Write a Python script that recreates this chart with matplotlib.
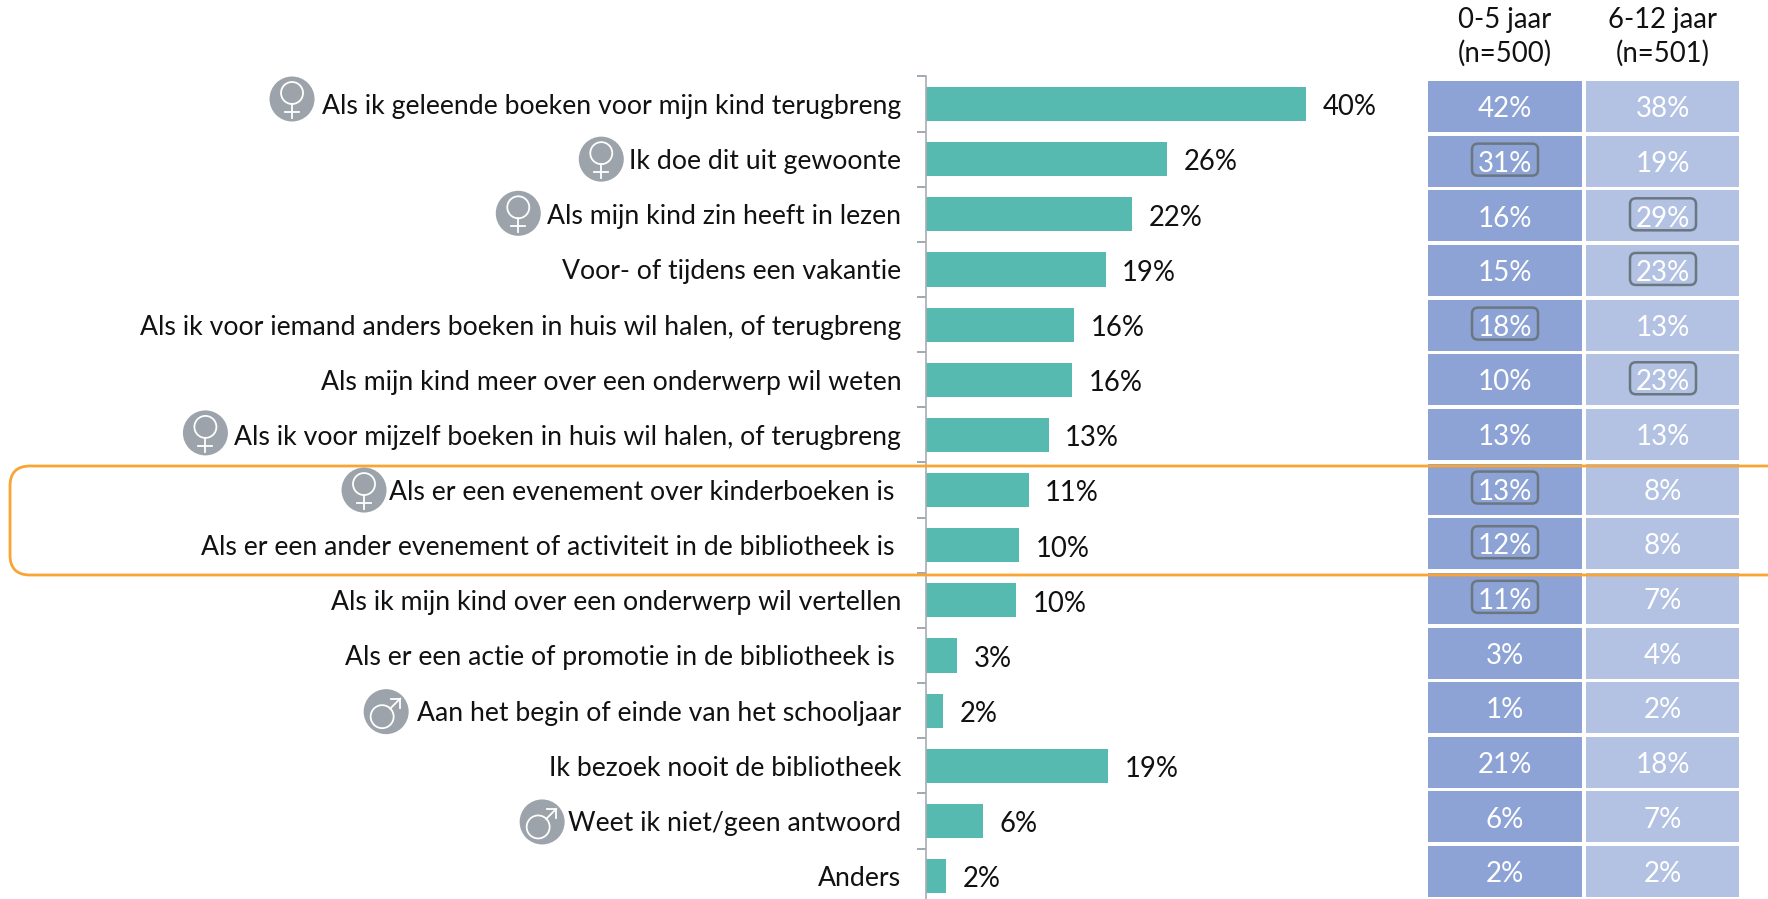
import matplotlib
matplotlib.use('Agg')
import matplotlib.pyplot as plt
from matplotlib.patches import Circle, FancyBboxPatch

labels = ['Als ik geleende boeken voor mijn kind terugbreng', 'Ik doe dit uit gewoonte',
          'Als mijn kind zin heeft in lezen', 'Voor- of tijdens een vakantie',
          'Als ik voor iemand anders boeken in huis wil halen, of terugbreng',
          'Als mijn kind meer over een onderwerp wil weten',
          'Als ik voor mijzelf boeken in huis wil halen, of terugbreng',
          'Als er een evenement over kinderboeken is\u00a0', 'Als er een ander evenement of activiteit in de bibliotheek is\u00a0',
          'Als ik mijn kind over een onderwerp wil vertellen', 'Als er een actie of promotie in de bibliotheek is\u00a0',
          'Aan het begin of einde van het schooljaar', 'Ik bezoek nooit de bibliotheek',
          'Weet ik niet/geen antwoord', 'Anders']
total = [40, 25.4, 21.7, 18.9, 15.6, 15.4, 12.9, 10.8, 9.8, 9.5, 3.3, 1.8, 19.2, 6, 2.1]
total_text = [40, 26, 22, 19, 16, 16, 13, 11, 10, 10, 3, 2, 19, 6, 2]
young = [42, 31, 16, 15, 18, 10, 13, 13, 12, 11, 3, 1, 21, 6, 2]
old = [38, 19, 29, 23, 13, 23, 13, 8, 8, 7, 4, 2, 18, 7, 2]
young_marked = [1, 4, 7, 8, 9]
old_marked = [2, 3, 5]
gender = ['f', 'f', 'f', '', '', '', 'f', 'f', '', '', '', 'm', '', 'm', '']
columns = ['0-5 jaar\n(n=500)', '6-12 jaar\n(n=501)']

W, H = 1768, 899
BAR = '#57bab1'
COL1 = '#8da3d5'
COL2 = '#b3c2e3'
ICON = '#9ca3aa'
ORANGE = '#f9a533'
MARK = '#6b7780'
INK = '#111111'
plt.rcParams['font.family'] = ['Lato', 'DejaVu Sans']

# icons do not sit at one fixed spot next to their label: row -> (gap to text, y shift) in px
icon_nudge = {0: (30, -5), 1: (28, 0), 2: (29, -1), 6: (29, -2), 7: (25, 0), 11: (31, 1), 13: (26, 1)}

rows = list(range(len(labels)))
fig = plt.figure(figsize=(W / 100, H / 100), dpi=100)


def add_axes(x0, y0, x1, y1):
    return fig.add_axes([x0 / W, 1 - y1 / H, (x1 - x0) / W, (y1 - y0) / H])


# bars
pitch = 55.15
ax = add_axes(926, 76, 1400, 899)
ax.barh(rows, total, height=0.62, color=BAR)
ax.set_xlim(0, 474 / 9.5)
ax.set_ylim((899 - 104) / pitch, (76 - 104) / pitch)
ax.set_yticks(rows, labels, fontsize=19.2, color=INK)
ax.tick_params(axis='y', which='major', length=0, pad=17.8)
ax.set_yticks([r - 0.5 for r in rows], minor=True)
ax.tick_params(axis='y', which='minor', length=6.5, width=1.1, color='#87919a')
ax.xaxis.set_visible(False)
for side in ['top', 'right', 'bottom']:
    ax.spines[side].set_visible(False)
ax.spines['left'].set_color('#a6adb3')
ax.spines['left'].set_linewidth(1.2)
for r, v, t in zip(rows, total, total_text):
    ax.annotate(f'{t}%', (v, r), xytext=(12, -2.4), textcoords='offset points',
                va='center', fontsize=19.8, color=INK)

# table
tax = add_axes(1428, 76, 1739, 899)
tpitch = 54.65
tax.barh(rows, [154 / 158] * len(rows), left=0, height=51 / tpitch, color=COL1)
tax.barh(rows, [154 / 158] * len(rows), left=1, height=51 / tpitch, color=COL2)
tax.set_xlim(0, 311 / 158)
tax.set_ylim((899 - 106.5) / tpitch, (76 - 106.5) / tpitch)
tax.axis('off')
for r in rows:
    tax.text(77 / 158, r + 0.05, f'{young[r]}%', ha='center', va='center', fontsize=20, color='white')
    tax.text(1 + 77 / 158, r + 0.05, f'{old[r]}%', ha='center', va='center', fontsize=20, color='white')
for c, name in enumerate(columns):
    tax.text(c + 77 / 158, -0.73, name, ha='center', va='bottom', fontsize=19.8,
             color=INK, linespacing=1.3, clip_on=False)

# overlay with orange frame, marked cells and gender icons
over = add_axes(0, 0, W, H)
over.set_xlim(0, W)
over.set_ylim(H, 0)
over.axis('off')
over.patch.set_alpha(0)

inv = over.transData.inverted()
for c, marked in enumerate([young_marked, old_marked]):
    for r in marked:
        x, y = inv.transform(tax.transData.transform((c + 77 / 158, r)))
        over.add_patch(FancyBboxPatch((x - 33, y - 17.5), 66, 32, boxstyle='round,pad=0,rounding_size=6',
                                      fc='none', ec=MARK, lw=1.8))

over.add_patch(FancyBboxPatch((10, 466), 1900, 109, boxstyle='round,pad=0,rounding_size=20',
                              fc='none', ec=ORANGE, lw=2))


def draw_icon(cx, cy, kind):
    over.add_patch(Circle((cx, cy), 22.5, fc=ICON, ec='none'))
    if kind == 'f':
        over.add_patch(Circle((cx, cy - 6), 11, fc='none', ec='white', lw=1.3))
        over.plot([cx, cx], [cy + 5, cy + 19], color='white', lw=1.3)
        over.plot([cx - 7, cx + 7], [cy + 13, cy + 13], color='white', lw=1.3)
    else:
        over.add_patch(Circle((cx - 4, cy + 5), 11.5, fc='none', ec='white', lw=1.3))
        over.plot([cx + 4, cx + 14], [cy - 3, cy - 13], color='white', lw=1.3)
        over.plot([cx + 5, cx + 14, cx + 14], [cy - 13, cy - 13, cy - 4], color='white', lw=1.3)


fig.canvas.draw()
inv = over.transData.inverted()
for r, (tick, kind) in enumerate(zip(ax.get_yticklabels(), gender)):
    if kind:
        gap, shift = icon_nudge[r]
        left = inv.transform((tick.get_window_extent().x0, 0))[0]
        y = inv.transform(ax.transData.transform((0, r)))[1]
        draw_icon(left - gap, y + shift, kind)

fig.savefig('out.png', dpi=100)
